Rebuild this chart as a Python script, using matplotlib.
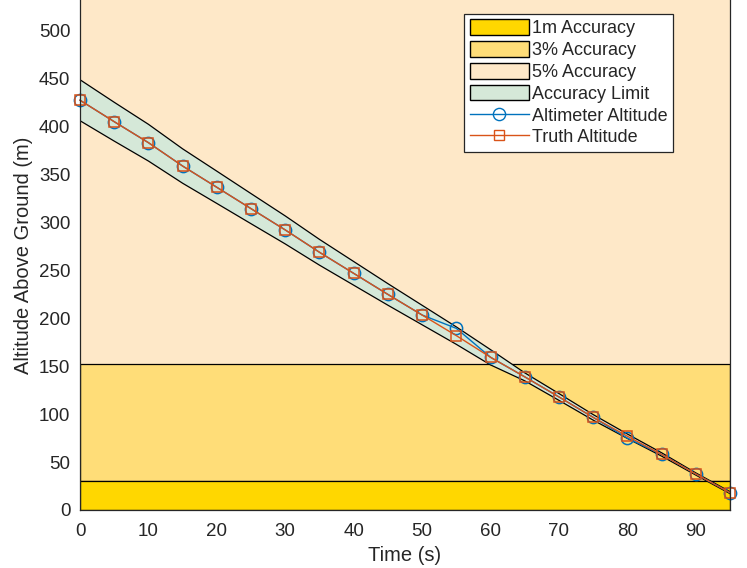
import numpy as np
import matplotlib
matplotlib.use("Agg")
import matplotlib.pyplot as plt
from matplotlib.patches import Patch
from matplotlib.lines import Line2D

plt.rcParams['font.family'] = ['Liberation Sans', 'DejaVu Sans']

time = [0, 5, 10, 15, 20, 25, 30, 35, 40, 45, 50, 55, 60, 65, 70, 75, 80, 85, 90, 95]
truth = [427.7, 405.3, 383.4, 359.0, 336.8, 314.5, 292.3, 269.0, 247.0, 225.0,
         203.5, 182.0, 159.4, 139.0, 118.0, 96.7, 77.0, 58.0, 37.6, 18.1]
altimeter = [427.7, 405.3, 383.4, 359.0, 336.8, 314.5, 292.3, 269.0, 247.0, 225.0,
             203.5, 189.6, 159.4, 139.0, 118.0, 96.7, 75.0, 58.0, 37.6, 18.1]
zone_1m_top = 30.48    # 100 ft
zone_3pct_top = 152.4  # 500 ft
y_top = 532.3
x_max = 95

c_1m = '#FFD700'
c_3 = '#FFDD78'
c_5 = '#FEE8C8'
c_lim = '#D5E8D8'
c_blue = '#0072BD'
c_orange = '#D95319'

tr = np.array(truth)
tol = np.where(tr > zone_3pct_top, 0.05 * tr, np.where(tr > zone_1m_top, 0.03 * tr, 1.0))
upper = tr + tol
lower = tr - tol

fig = plt.figure(figsize=(7.47, 5.68), dpi=100)
ax = fig.add_axes([80/747, 58/568, 650/747, 510/568])

ax.fill_between([0, x_max], zone_3pct_top, y_top, facecolor=c_5, edgecolor='none', zorder=1)
ax.fill_between([0, x_max], zone_1m_top, zone_3pct_top, facecolor=c_3, edgecolor='k', lw=0.9, zorder=1)
ax.fill_between([0, x_max], 0, zone_1m_top, facecolor=c_1m, edgecolor='k', lw=0.9, zorder=1.1)

ax.fill_between(time, lower, upper, facecolor=c_lim, edgecolor='none', zorder=2)
ax.plot(time, upper, color='k', lw=0.9, zorder=2.1)
ax.plot(time, lower, color='k', lw=0.9, zorder=2.1)

ax.plot(time, altimeter, color=c_blue, lw=1.0, marker='o', ms=8.8, mfc='none', mec=c_blue, mew=1.1, zorder=3, clip_on=False)
ax.plot(time, truth, color=c_orange, lw=1.0, marker='s', ms=7.0, mfc='none', mec=c_orange, mew=1.1, zorder=4, clip_on=False)

ax.set_xlim(0, x_max)
ax.set_ylim(0, y_top)
ax.set_xticks(np.arange(0, 91, 10))
ax.set_yticks(np.arange(0, 501, 50))
ax.tick_params(length=0, labelsize=13.5, colors='#262626', pad=7)
ax.tick_params(axis='x', pad=9)
for s in ['left', 'bottom', 'right']:
    ax.spines[s].set_color('#262626')
    ax.spines[s].set_linewidth(0.9)
    ax.spines[s].set_zorder(5)
ax.spines['top'].set_visible(False)

ax.set_xlabel('Time (s)', fontsize=14.5, color='#262626', labelpad=5)
ax.set_ylabel('Altitude Above Ground (m)', fontsize=14.5, color='#262626', labelpad=4)

handles = [
    Patch(facecolor=c_1m, edgecolor='k', lw=1.0),
    Patch(facecolor=c_3, edgecolor='k', lw=1.0),
    Patch(facecolor=c_5, edgecolor='k', lw=1.0),
    Patch(facecolor=c_lim, edgecolor='k', lw=1.0),
    Line2D([], [], color=c_blue, lw=1.0, marker='o', ms=8.8, mfc='none', mec=c_blue),
    Line2D([], [], color=c_orange, lw=1.0, marker='s', ms=7.0, mfc='none', mec=c_orange),
]
labels = ['1m Accuracy', '3% Accuracy', '5% Accuracy', 'Accuracy Limit',
          'Altimeter Altitude', 'Truth Altitude']
leg = fig.legend(handles, labels, loc='upper right', bbox_to_anchor=(673/747, 1 - 14/568),
                 fontsize=13, frameon=True, fancybox=False, edgecolor='#262626',
                 framealpha=1.0, handlelength=3.3, handleheight=0.95, handletextpad=0.15,
                 labelspacing=0.21, borderpad=0.3, borderaxespad=0)
leg.get_frame().set_linewidth(0.9)
for t in leg.get_texts():
    t.set_color('#262626')

fig.savefig('out.png', dpi=100)
